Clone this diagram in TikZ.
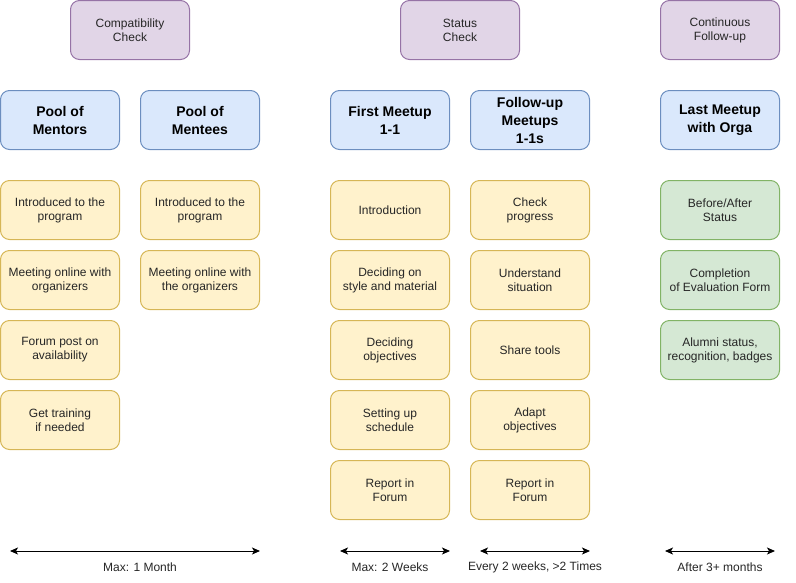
\documentclass[tikz,border=0pt]{standalone}
\usepackage{fontspec}
\setmainfont{Liberation Sans}
\usetikzlibrary{arrows.meta}
\definecolor{pfill}{HTML}{E1D5E7}\definecolor{pdraw}{HTML}{9673A6}
\definecolor{bfill}{HTML}{DAE8FC}\definecolor{bdraw}{HTML}{6C8EBF}
\definecolor{yfill}{HTML}{FFF2CC}\definecolor{ydraw}{HTML}{D6B656}
\definecolor{gfill}{HTML}{D5E8D4}\definecolor{gdraw}{HTML}{82B366}
\tikzset{
  box/.style={rounded corners=9pt, line width=1pt, minimum width=119pt, minimum height=59pt,
    inner sep=0pt, align=center, font=\fontsize{12}{14}\selectfont, text=black!85},
  pbox/.style={box, fill=pfill, draw=pdraw},
  hbox/.style={box, fill=bfill, draw=bdraw, font=\fontsize{14}{18}\selectfont\bfseries, text=black},
  ybox/.style={box, fill=yfill, draw=ydraw},
  gbox/.style={box, fill=gfill, draw=gdraw},
  span/.style={line width=1pt, {Stealth[length=8pt,width=7pt,inset=2pt]}-{Stealth[length=8pt,width=7pt,inset=2pt]}},
  lab/.style={font=\fontsize{12}{14}\selectfont, text=black!85, inner sep=0pt}
}
\begin{document}
\begin{tikzpicture}[x=1pt,y=-1pt]
\useasboundingbox (0,0) rectangle (796,582);
% purple
\node[pbox] (cc) at (130,30) {Compatibility\\Check};
\node[pbox] (sc) at (460,30) {Status\\Check};
\node[pbox] (cf) at (720,30) {Continuous\\Follow-up};
% headers
\node[hbox] (h1) at (60,120) {Pool of\\Mentors};
\node[hbox] (h2) at (200,120) {Pool of\\Mentees};
\node[hbox] (h3) at (390,120) {First Meetup\\1-1};
\node[hbox] (h4) at (530,120) {Follow-up\\Meetups\\1-1s};
\node[hbox] (h5) at (720,120) {Last Meetup\\with Orga};
% column 1
\node[ybox] (a1) at (60,210) {Introduced to the\\program};
\node[ybox] (a2) at (60,280) {Meeting online with\\organizers};
\node[ybox] (a3) at (60,350) {Forum post on\\availability};
\node[ybox] (a4) at (60,420) {Get training\\if needed};
% column 2
\node[ybox] (b1) at (200,210) {Introduced to the\\program};
\node[ybox] (b2) at (200,280) {Meeting online with\\the organizers};
% column 3
\node[ybox] (c1) at (390,210) {Introduction};
\node[ybox] (c2) at (390,280) {Deciding on\\style and material};
\node[ybox] (c3) at (390,350) {Deciding\\objectives};
\node[ybox] (c4) at (390,420) {Setting up\\schedule};
\node[ybox] (c5) at (390,490) {Report in\\Forum};
% column 4
\node[ybox] (d1) at (530,210) {Check\\progress};
\node[ybox] (d2) at (530,280) {Understand\\situation};
\node[ybox] (d3) at (530,350) {Share tools};
\node[ybox] (d4) at (530,420) {Adapt\\objectives};
\node[ybox] (d5) at (530,490) {Report in\\Forum};
% column 5
\node[gbox] (e1) at (720,210) {Before/After\\Status};
\node[gbox] (e2) at (720,280) {Completion\\of Evaluation Form};
\node[gbox] (e3) at (720,350) {Alumni status,\\recognition, badges};
% spans
\coordinate (s1a) at (10,551); \coordinate (s1b) at (260,551);
\coordinate (s2a) at (340,551); \coordinate (s2b) at (450,551);
\coordinate (s3a) at (480,551); \coordinate (s3b) at (590,551);
\coordinate (s4a) at (665,551); \coordinate (s4b) at (775,551);
\draw[span] (s1a) -- (s1b);
\draw[span] (s2a) -- (s2b);
\draw[span] (s3a) -- (s3b);
\draw[span] (s4a) -- (s4b);
\node[lab] (l1) at (140,567) {Max: 1 Month};
\node[lab] (l2) at (390,567) {Max: 2 Weeks};
\node[lab] (l3) at (535,567) {Every 2 weeks, >2 Times};
\node[lab] (l4) at (720,567) {After 3+ months};
\end{tikzpicture}
\end{document}
